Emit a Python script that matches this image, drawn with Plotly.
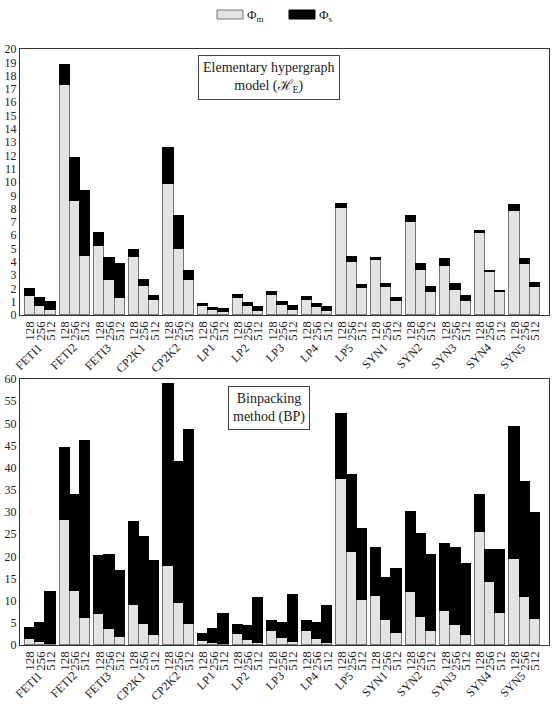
import plotly.graph_objects as go

groups = ["FETI1", "FETI2", "FETI3", "CP2K1", "CP2K2", "LP1", "LP2", "LP3",
          "LP4", "LP5", "SYN1", "SYN2", "SYN3", "SYN4", "SYN5"]
sizes = ["128", "256", "512"]

# Elementary hypergraph model (H_E): Phi_m and Phi_s per group (128, 256, 512)
top_phi_m = [1.4, 0.65, 0.38, 17.3, 8.55, 4.44, 5.2, 2.6, 1.28, 4.36, 2.16, 1.15,
             9.85, 4.96, 2.6, 0.65, 0.35, 0.2, 1.28, 0.65, 0.33, 1.5, 0.75, 0.4,
             1.1, 0.58, 0.33, 8.05, 3.96, 2.03, 4.11, 2.1, 1.08, 7.0, 3.4, 1.73,
             3.7, 1.9, 1.03, 6.2, 3.23, 1.7, 7.8, 3.86, 2.08]
top_phi_s = [0.53, 0.6, 0.62, 1.5, 3.25, 4.86, 0.97, 1.71, 2.53, 0.5, 0.44, 0.3,
             2.68, 2.46, 0.68, 0.18, 0.2, 0.25, 0.25, 0.25, 0.27, 0.23, 0.23, 0.25,
             0.28, 0.27, 0.27, 0.3, 0.4, 0.23, 0.2, 0.2, 0.17, 0.42, 0.4, 0.35,
             0.54, 0.46, 0.42, 0.09, 0.1, 0.08, 0.45, 0.35, 0.32]

# Binpacking method (BP)
bot_phi_m = [1.43, 0.75, 0.3, 28.1, 12.25, 6.1, 7.0, 3.68, 1.73, 9.1, 4.8, 2.26,
             17.8, 9.4, 4.74, 0.98, 0.45, 0.3, 2.4, 1.2, 0.53, 3.16, 1.58, 0.68,
             3.23, 1.35, 0.53, 37.4, 21.05, 10.15, 11.0, 5.7, 2.63, 12.0, 6.3, 3.16,
             7.6, 4.44, 2.26, 25.6, 14.2, 7.2, 19.3, 10.75, 5.8]
bot_phi_s = [2.33, 4.15, 11.7, 16.3, 21.55, 39.9, 13.15, 16.72, 14.97, 18.7, 19.56, 16.74,
             41.1, 31.95, 43.86, 1.42, 3.08, 6.77, 2.03, 3.16, 10.17, 2.24, 3.38, 10.62,
             2.17, 3.61, 8.17, 14.6, 17.3, 15.95, 10.95, 9.5, 14.57, 18.1, 18.8, 17.14,
             15.2, 17.51, 15.94, 8.2, 7.15, 14.2, 29.9, 26.1, 23.9]

BW = 0.295
xpos = [g + (j - 1) * BW for g in range(len(groups)) for j in range(len(sizes))]
xtext = [s for _ in groups for s in sizes]

GRAY = "#e3e3e3"
GRAY_LINE = "#777777"
FONT = "Liberation Serif"

fig = go.Figure()
for ax, m, s in [("", top_phi_m, top_phi_s), ("2", bot_phi_m, bot_phi_s)]:
    fig.add_trace(go.Bar(x=xpos, y=m, width=BW, name="Φm",
                         marker=dict(color=GRAY, line=dict(color=GRAY_LINE, width=1)),
                         xaxis="x" + ax, yaxis="y" + ax, showlegend=False))
    fig.add_trace(go.Bar(x=xpos, y=s, width=BW, name="Φs",
                         marker=dict(color="black", line=dict(color="black", width=1)),
                         xaxis="x" + ax, yaxis="y" + ax, showlegend=False))

xax = dict(range=[-0.588, 14.70], tickmode="array", tickvals=xpos, ticktext=xtext,
           tickangle=-90, tickfont=dict(family=FONT, size=13, color="#222"),
           showline=True, linecolor="#333", linewidth=1, mirror=True,
           ticks="", showgrid=False, zeroline=False, automargin=False)
yax = dict(showline=True, linecolor="#333", linewidth=1, mirror=True,
           ticks="", showgrid=False, zeroline=False, automargin=False,
           tickfont=dict(family=FONT, size=12, color="#222"), tickmode="linear", tick0=0)

H = 704 - 49 - 59
top_bottom = (645 - 315) / H
bot_top = (645 - 379) / H

fig.update_layout(
    width=555, height=704, barmode="stack", bargap=0,
    margin=dict(l=20, r=6, t=49, b=59),
    paper_bgcolor="white", plot_bgcolor="white", showlegend=False,
    xaxis=dict(xax, domain=[0, 1], anchor="y"),
    yaxis=dict(yax, domain=[top_bottom, 1], range=[0, 20], dtick=1, anchor="x"),
    xaxis2=dict(xax, domain=[0, 1], anchor="y2"),
    yaxis2=dict(yax, domain=[0, bot_top], range=[0, 60], dtick=5, anchor="x2"),
)

annotations = []
for ax_y, yref, ysh in [("y", "y domain", -23), ("y2", "y2 domain", -21)]:
    xr = "x" if ax_y == "y" else "x2"
    for i, g in enumerate(groups):
        annotations.append(dict(x=i, y=0, xref=xr, yref=yref, text=g, showarrow=False,
                                textangle=-45, xanchor="right", yanchor="top",
                                xshift=7, yshift=ysh,
                                font=dict(family=FONT, size=12, color="#222")))

# panel labels
annotations.append(dict(x=0.471, y=0.99, xref="paper", yref="paper",
                        text="Elementary hypergraph<br>model (ℋ<sub>E</sub>)",
                        showarrow=False, xanchor="center", yanchor="top",
                        font=dict(family=FONT, size=14, color="#222"),
                        bordercolor="#444", borderwidth=1, borderpad=4, bgcolor="white"))
annotations.append(dict(x=0.471, y=bot_top - 0.011, xref="paper", yref="paper",
                        text="Binpacking<br>method (BP)",
                        showarrow=False, xanchor="center", yanchor="top",
                        font=dict(family=FONT, size=14, color="#222"),
                        bordercolor="#444", borderwidth=1, borderpad=4, bgcolor="white"))

# legend (drawn)
def px2paper_x(px):
    return (px - 20) / 529

def px2paper_y(py):
    return (645 - py) / H

shapes = [
    dict(type="rect", xref="paper", yref="paper",
         x0=px2paper_x(217), x1=px2paper_x(243), y0=px2paper_y(19), y1=px2paper_y(10),
         fillcolor=GRAY, line=dict(color=GRAY_LINE, width=1)),
    dict(type="rect", xref="paper", yref="paper",
         x0=px2paper_x(289), x1=px2paper_x(315), y0=px2paper_y(19), y1=px2paper_y(10),
         fillcolor="black", line=dict(color="black", width=1)),
]
annotations.append(dict(x=px2paper_x(245), y=px2paper_y(15), xref="paper", yref="paper",
                        text="Φ<sub>m</sub>", showarrow=False, xanchor="left", yanchor="middle",
                        font=dict(family=FONT, size=13, color="#222")))
annotations.append(dict(x=px2paper_x(317), y=px2paper_y(15), xref="paper", yref="paper",
                        text="Φ<sub>s</sub>", showarrow=False, xanchor="left", yanchor="middle",
                        font=dict(family=FONT, size=13, color="#222")))

fig.update_layout(annotations=annotations, shapes=shapes)
fig.write_html("out.html")
